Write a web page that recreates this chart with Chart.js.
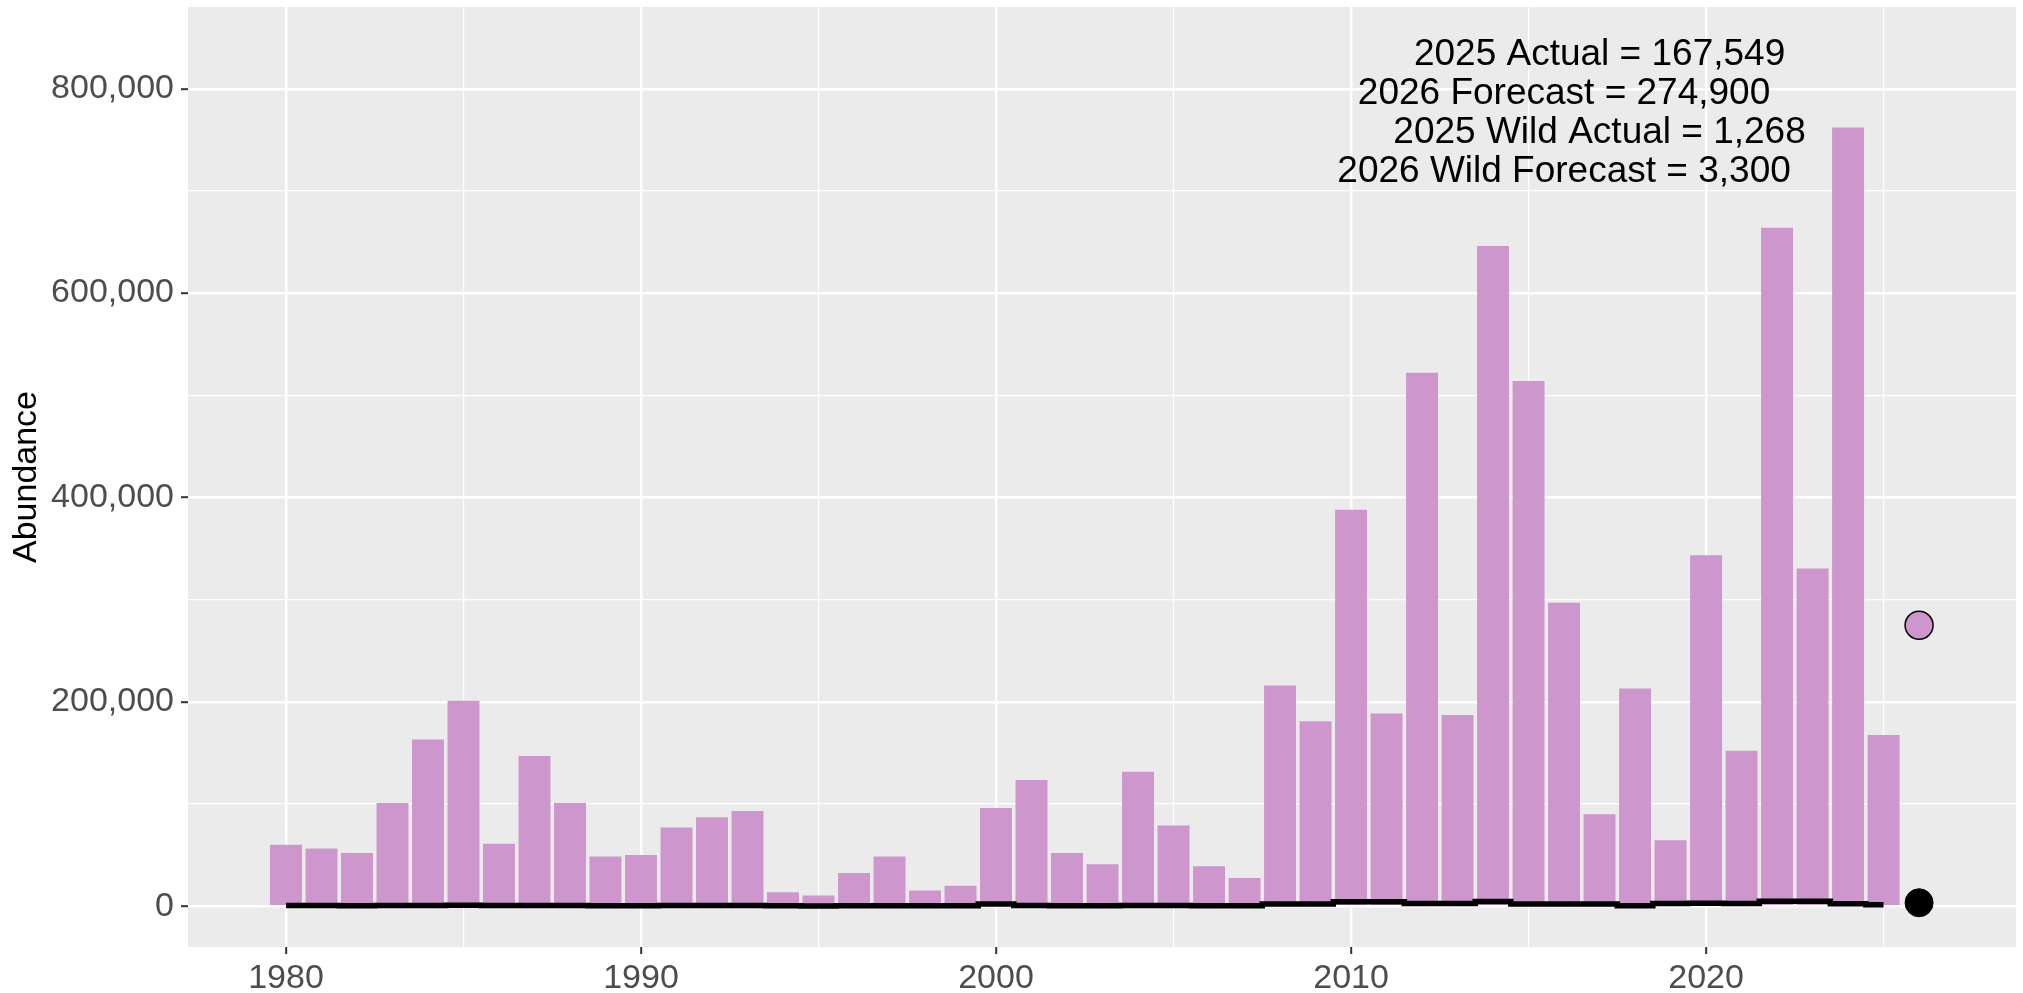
<!DOCTYPE html>
<html lang="en">
<head>
  <meta charset="UTF-8" />
  <title>Abundance</title>
  <script src="https://cdn.jsdelivr.net/npm/chart.js"></script>
  <style>
    body {
      margin: 0;
      background: #ffffff;
      font-family: 'Liberation Sans', Arial, sans-serif;
    }
    #wrap {
      width: 2023px;
      height: 993px;
      position: relative;
    }
  </style>
</head>
<body>
  <div id="wrap"><canvas id="abundanceChart"></canvas></div>

  <script>
    // data
    const years = [
      1980, 1981, 1982, 1983, 1984, 1985, 1986, 1987, 1988, 1989,
      1990, 1991, 1992, 1993, 1994, 1995, 1996, 1997, 1998, 1999,
      2000, 2001, 2002, 2003, 2004, 2005, 2006, 2007, 2008, 2009,
      2010, 2011, 2012, 2013, 2014, 2015, 2016, 2017, 2018, 2019,
      2020, 2021, 2022, 2023, 2024, 2025
    ];
    const totalRun = [
      60000, 56500, 52000, 101000, 163000, 201000, 61000, 147000, 101000, 48500,
      50000, 77000, 87000, 93000, 13500, 10500, 32500, 48500, 15300, 20000,
      96000, 123500, 52000, 41000, 131500, 79000, 39000, 27500, 216000, 181000,
      388000, 188500, 522000, 187000, 646000, 514000, 297000, 90000, 213000, 64500,
      343500, 152000, 664000, 330500, 762000, 167549
    ];
    const wildRun = [
      600, 500, 400, 500, 700, 800, 500, 600, 500, 400,
      400, 500, 500, 600, 300, 200, 300, 400, 300, 300,
      2200, 500, 400, 400, 600, 500, 400, 300, 2000, 2000,
      4300, 4300, 2600, 2600, 4500, 2200, 2200, 2000, 300, 2500,
      2700, 2600, 4800, 4800, 2300, 1268
    ];
    const forecastYear = [2026];
    const totalForecast = [274900];
    const wildForecast = [3300];

    const noteX = [2017, 2016, 2017, 2016];
    const noteY = [833000, 795000, 757000, 719000];
    const noteText = [
      '2025 Actual = 167,549',
      '2026 Forecast = 274,900',
      '2025 Wild Actual = 1,268',
      '2026 Wild Forecast = 3,300'
    ];

    // major ticks carry labels, minor ones only a thin grid line
    const yTicks = [0, 200000, 400000, 600000, 800000];
    const yMinor = [100000, 300000, 500000, 700000];
    const xTicks = [1980, 1990, 2000, 2010, 2020];
    const xMinor = [1985, 1995, 2005, 2015, 2025];

    const FONT = "'Liberation Sans', Arial, sans-serif";
    const PLUM = '#CD96CD';

    // grey panel behind the grid, like ggplot
    const panelBg = {
      id: 'panelBg',
      beforeDraw(chart) {
        const a = chart.chartArea;
        const ctx = chart.ctx;
        ctx.save();
        ctx.fillStyle = '#EBEBEB';
        ctx.fillRect(a.left, a.top, a.right - a.left, a.bottom - a.top);
        ctx.restore();
      }
    };

    const notes = {
      id: 'notes',
      afterDatasetsDraw(chart) {
        const ctx = chart.ctx;
        const xs = chart.scales.x, ys = chart.scales.y;
        ctx.save();
        ctx.fillStyle = '#000000';
        ctx.font = '37px ' + FONT;
        ctx.textAlign = 'center';
        ctx.textBaseline = 'middle';
        noteText.forEach((t, i) => {
          ctx.fillText(t, xs.getPixelForValue(noteX[i]), ys.getPixelForValue(noteY[i]));
        });
        ctx.restore();
      }
    };

    const isMajorY = v => yTicks.includes(v);
    const isMajorX = v => xTicks.includes(v);

    new Chart(document.getElementById('abundanceChart'), {
      data: {
        datasets: [
          {
            type: 'scatter',
            data: forecastYear.map((x, i) => ({ x: x, y: totalForecast[i] })),
            backgroundColor: PLUM,
            borderColor: '#000000',
            borderWidth: 1.5,
            pointRadius: 14,
            order: 1
          },
          {
            type: 'scatter',
            data: forecastYear.map((x, i) => ({ x: x, y: wildForecast[i] })),
            backgroundColor: '#000000',
            borderColor: '#000000',
            borderWidth: 1,
            pointRadius: 14,
            order: 1
          },
          {
            type: 'line',
            data: years.map((x, i) => ({ x: x, y: wildRun[i] })),
            borderColor: '#000000',
            borderWidth: 5.5,
            stepped: 'middle',
            pointRadius: 0,
            fill: false,
            order: 2
          },
          {
            type: 'bar',
            data: years.map((x, i) => ({ x: x, y: totalRun[i] })),
            backgroundColor: PLUM,
            borderWidth: 0,
            categoryPercentage: 1.0,
            barPercentage: 0.9,
            order: 3
          }
        ]
      },
      options: {
        responsive: true,
        maintainAspectRatio: false,
        animation: false,
        layout: { autoPadding: false, padding: { top: 7, right: 7, left: 0, bottom: 0 } },
        plugins: {
          legend: { display: false },
          tooltip: { enabled: false }
        },
        scales: {
          x: {
            type: 'linear',
            min: 1977.24,
            max: 2028.73,
            offset: false,
            afterBuildTicks(scale) {
              scale.ticks = xTicks.concat(xMinor).sort((a, b) => a - b).map(v => ({ value: v }));
            },
            afterFit(scale) {
              scale.height = 46;
              scale.paddingLeft = 0;
              scale.paddingRight = 0;
            },
            border: { display: false },
            grid: {
              offset: false,
              color: '#FFFFFF',
              lineWidth: c => (c.tick && isMajorX(c.tick.value)) ? 2.4 : 1.2,
              tickColor: c => (c.tick && isMajorX(c.tick.value)) ? '#333333' : 'rgba(0,0,0,0)',
              tickWidth: 2,
              tickLength: 7
            },
            ticks: {
              autoSkip: false,
              maxRotation: 0,
              padding: 4,
              color: '#4D4D4D',
              font: { family: FONT, size: 34 },
              callback: v => isMajorX(v) ? String(v) : ''
            }
          },
          y: {
            min: -40000,
            max: 880000,
            afterBuildTicks(scale) {
              scale.ticks = yTicks.concat(yMinor).sort((a, b) => a - b).map(v => ({ value: v }));
            },
            afterFit(scale) {
              scale.width = 188;
              scale.paddingTop = 0;
              scale.paddingBottom = 0;
            },
            border: { display: false },
            grid: {
              color: '#FFFFFF',
              lineWidth: c => (c.tick && isMajorY(c.tick.value)) ? 2.4 : 1.2,
              tickColor: c => (c.tick && isMajorY(c.tick.value)) ? '#333333' : 'rgba(0,0,0,0)',
              tickWidth: 2,
              tickLength: 7
            },
            ticks: {
              autoSkip: false,
              padding: 7,
              color: '#4D4D4D',
              font: { family: FONT, size: 34 },
              callback: v => isMajorY(v) ? v.toLocaleString('en-US') : ''
            },
            title: {
              display: true,
              text: 'Abundance',
              color: '#000000',
              font: { family: FONT, size: 34 },
              padding: { top: 6, bottom: 0 }
            }
          }
        }
      },
      plugins: [panelBg, notes]
    });
  </script>
</body>
</html>
